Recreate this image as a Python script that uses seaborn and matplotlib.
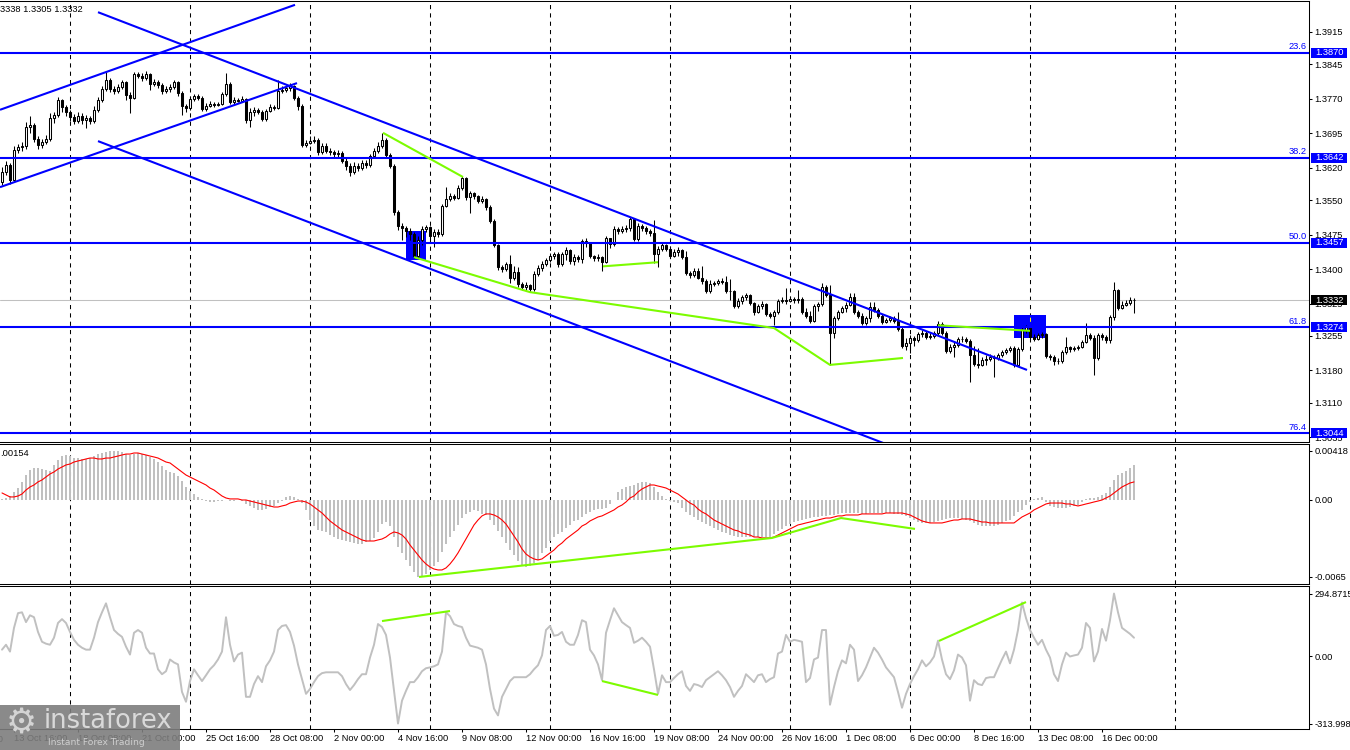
import numpy as np
import matplotlib
matplotlib.use("Agg")
import matplotlib.pyplot as plt
import matplotlib.transforms as mtransforms
from matplotlib.patches import Rectangle
import seaborn as sns

sns.set_style("white")
plt.rcParams['font.family'] = ['Liberation Sans', 'DejaVu Sans']
plt.rcParams['axes.linewidth'] = 0.75

# ---------------- data (H4 candles) ----------------
OPEN0 = 1.3589
CLOSE = [
 1.3611, 1.3626, 1.3594, 1.3659, 1.3665, 1.3667, 1.3709, 1.3713, 1.3683, 1.3670,
 1.3676, 1.3683, 1.3728, 1.3735, 1.3767, 1.3752, 1.3741, 1.3730, 1.3722, 1.3733,
 1.3724, 1.3728, 1.3722, 1.3746, 1.3767, 1.3791, 1.3811, 1.3791, 1.3787, 1.3795,
 1.3806, 1.3778, 1.3772, 1.3824, 1.3819, 1.3815, 1.3824, 1.3802, 1.3806, 1.3800,
 1.3787, 1.3791, 1.3795, 1.3806, 1.3783, 1.3754, 1.3750, 1.3769, 1.3776, 1.3772,
 1.3748, 1.3754, 1.3759, 1.3756, 1.3759, 1.3780, 1.3802, 1.3763, 1.3767, 1.3765,
 1.3769, 1.3724, 1.3741, 1.3746, 1.3741, 1.3726, 1.3743, 1.3752, 1.3750, 1.3787,
 1.3789, 1.3793, 1.3798, 1.3772, 1.3754, 1.3670, 1.3674, 1.3678, 1.3680, 1.3654,
 1.3667, 1.3657, 1.3654, 1.3650, 1.3652, 1.3635, 1.3624, 1.3611, 1.3624, 1.3620,
 1.3631, 1.3626, 1.3646, 1.3657, 1.3667, 1.3680, 1.3648, 1.3624, 1.3524, 1.3494,
 1.3489, 1.3483, 1.3476, 1.3428, 1.3463, 1.3487, 1.3491, 1.3472, 1.3481, 1.3476,
 1.3537, 1.3552, 1.3559, 1.3554, 1.3576, 1.3598, 1.3557, 1.3565, 1.3559, 1.3548,
 1.3552, 1.3535, 1.3505, 1.3452, 1.3405, 1.3400, 1.3411, 1.3381, 1.3394, 1.3368,
 1.3361, 1.3365, 1.3357, 1.3389, 1.3402, 1.3411, 1.3420, 1.3428, 1.3433, 1.3411,
 1.3433, 1.3442, 1.3418, 1.3426, 1.3422, 1.3461, 1.3457, 1.3428, 1.3424, 1.3426,
 1.3415, 1.3468, 1.3454, 1.3487, 1.3483, 1.3487, 1.3489, 1.3509, 1.3465, 1.3494,
 1.3489, 1.3483, 1.3478, 1.3433, 1.3444, 1.3452, 1.3444, 1.3428, 1.3437, 1.3442,
 1.3426, 1.3392, 1.3387, 1.3396, 1.3381, 1.3374, 1.3352, 1.3368, 1.3370, 1.3374,
 1.3372, 1.3352, 1.3352, 1.3320, 1.3331, 1.3339, 1.3344, 1.3326, 1.3307, 1.3320,
 1.3324, 1.3303, 1.3298, 1.3307, 1.3331, 1.3333, 1.3331, 1.3335, 1.3333, 1.3335,
 1.3307, 1.3298, 1.3287, 1.3320, 1.3324, 1.3361, 1.3344, 1.3261, 1.3294, 1.3307,
 1.3316, 1.3322, 1.3339, 1.3307, 1.3298, 1.3283, 1.3294, 1.3318, 1.3311, 1.3298,
 1.3285, 1.3290, 1.3294, 1.3287, 1.3270, 1.3233, 1.3239, 1.3250, 1.3246, 1.3259,
 1.3261, 1.3252, 1.3255, 1.3261, 1.3281, 1.3261, 1.3222, 1.3231, 1.3235, 1.3248,
 1.3248, 1.3244, 1.3213, 1.3194, 1.3192, 1.3203, 1.3205, 1.3209, 1.3207, 1.3213,
 1.3220, 1.3224, 1.3229, 1.3192, 1.3226, 1.3268, 1.3274, 1.3252, 1.3248, 1.3257,
 1.3259, 1.3211, 1.3209, 1.3200, 1.3200, 1.3220, 1.3231, 1.3226, 1.3229, 1.3231,
 1.3242, 1.3257, 1.3250, 1.3207, 1.3257, 1.3252, 1.3246, 1.3296, 1.3355, 1.3316,
 1.3322, 1.3326, 1.3333, 1.3332]
HIGH = [
 1.3622, 1.3635, 1.3631, 1.3667, 1.3672, 1.3676, 1.3720, 1.3733, 1.3717, 1.3689,
 1.3683, 1.3691, 1.3739, 1.3741, 1.3774, 1.3769, 1.3756, 1.3746, 1.3737, 1.3741,
 1.3739, 1.3735, 1.3733, 1.3754, 1.3774, 1.3798, 1.3828, 1.3815, 1.3798, 1.3802,
 1.3811, 1.3809, 1.3785, 1.3828, 1.3828, 1.3826, 1.3830, 1.3826, 1.3813, 1.3811,
 1.3804, 1.3798, 1.3802, 1.3811, 1.3809, 1.3787, 1.3758, 1.3776, 1.3780, 1.3780,
 1.3776, 1.3761, 1.3765, 1.3763, 1.3763, 1.3785, 1.3826, 1.3806, 1.3774, 1.3772,
 1.3776, 1.3772, 1.3750, 1.3752, 1.3750, 1.3746, 1.3748, 1.3759, 1.3756, 1.3811,
 1.3798, 1.3800, 1.3804, 1.3800, 1.3776, 1.3759, 1.3680, 1.3689, 1.3689, 1.3685,
 1.3674, 1.3674, 1.3663, 1.3659, 1.3659, 1.3657, 1.3644, 1.3631, 1.3633, 1.3631,
 1.3637, 1.3637, 1.3650, 1.3663, 1.3676, 1.3696, 1.3685, 1.3652, 1.3628, 1.3528,
 1.3500, 1.3494, 1.3489, 1.3481, 1.3472, 1.3494, 1.3496, 1.3494, 1.3487, 1.3487,
 1.3541, 1.3578, 1.3565, 1.3563, 1.3583, 1.3602, 1.3600, 1.3570, 1.3567, 1.3561,
 1.3559, 1.3554, 1.3539, 1.3509, 1.3454, 1.3409, 1.3415, 1.3431, 1.3407, 1.3405,
 1.3372, 1.3372, 1.3368, 1.3396, 1.3409, 1.3418, 1.3424, 1.3435, 1.3437, 1.3437,
 1.3437, 1.3448, 1.3444, 1.3433, 1.3431, 1.3465, 1.3468, 1.3457, 1.3431, 1.3433,
 1.3428, 1.3472, 1.3463, 1.3494, 1.3491, 1.3494, 1.3496, 1.3513, 1.3511, 1.3500,
 1.3498, 1.3494, 1.3487, 1.3507, 1.3450, 1.3457, 1.3454, 1.3450, 1.3444, 1.3448,
 1.3444, 1.3439, 1.3396, 1.3402, 1.3402, 1.3407, 1.3378, 1.3376, 1.3374, 1.3378,
 1.3381, 1.3385, 1.3378, 1.3355, 1.3337, 1.3344, 1.3348, 1.3346, 1.3329, 1.3324,
 1.3331, 1.3326, 1.3307, 1.3311, 1.3335, 1.3339, 1.3359, 1.3342, 1.3339, 1.3355,
 1.3339, 1.3316, 1.3309, 1.3324, 1.3329, 1.3370, 1.3365, 1.3365, 1.3298, 1.3311,
 1.3320, 1.3329, 1.3348, 1.3348, 1.3311, 1.3305, 1.3298, 1.3329, 1.3329, 1.3316,
 1.3303, 1.3294, 1.3298, 1.3298, 1.3307, 1.3274, 1.3250, 1.3257, 1.3255, 1.3264,
 1.3268, 1.3266, 1.3261, 1.3266, 1.3287, 1.3285, 1.3266, 1.3237, 1.3242, 1.3252,
 1.3255, 1.3252, 1.3248, 1.3233, 1.3229, 1.3209, 1.3213, 1.3216, 1.3213, 1.3218,
 1.3224, 1.3229, 1.3233, 1.3233, 1.3231, 1.3274, 1.3279, 1.3277, 1.3259, 1.3261,
 1.3264, 1.3261, 1.3216, 1.3213, 1.3207, 1.3224, 1.3253, 1.3233, 1.3233, 1.3235,
 1.3246, 1.3283, 1.3261, 1.3257, 1.3261, 1.3261, 1.3257, 1.3300, 1.3372, 1.3357,
 1.3331, 1.3333, 1.3339, 1.3338]
LOW = [
 1.3583, 1.3604, 1.3585, 1.3589, 1.3652, 1.3657, 1.3661, 1.3696, 1.3676, 1.3661,
 1.3663, 1.3672, 1.3678, 1.3717, 1.3730, 1.3741, 1.3733, 1.3722, 1.3715, 1.3717,
 1.3715, 1.3706, 1.3715, 1.3717, 1.3741, 1.3763, 1.3787, 1.3785, 1.3780, 1.3783,
 1.3791, 1.3767, 1.3739, 1.3769, 1.3815, 1.3809, 1.3811, 1.3789, 1.3798, 1.3793,
 1.3780, 1.3783, 1.3785, 1.3791, 1.3776, 1.3735, 1.3741, 1.3746, 1.3765, 1.3767,
 1.3743, 1.3743, 1.3752, 1.3752, 1.3754, 1.3756, 1.3776, 1.3759, 1.3759, 1.3763,
 1.3763, 1.3717, 1.3709, 1.3733, 1.3737, 1.3722, 1.3722, 1.3741, 1.3746, 1.3748,
 1.3783, 1.3785, 1.3787, 1.3767, 1.3746, 1.3665, 1.3665, 1.3672, 1.3674, 1.3648,
 1.3650, 1.3652, 1.3648, 1.3644, 1.3644, 1.3631, 1.3615, 1.3602, 1.3607, 1.3613,
 1.3615, 1.3620, 1.3622, 1.3642, 1.3652, 1.3663, 1.3642, 1.3620, 1.3518, 1.3485,
 1.3463, 1.3470, 1.3463, 1.3424, 1.3424, 1.3452, 1.3481, 1.3465, 1.3448, 1.3470,
 1.3472, 1.3535, 1.3548, 1.3550, 1.3552, 1.3572, 1.3550, 1.3522, 1.3552, 1.3543,
 1.3543, 1.3528, 1.3500, 1.3448, 1.3398, 1.3394, 1.3396, 1.3370, 1.3376, 1.3361,
 1.3355, 1.3355, 1.3350, 1.3352, 1.3385, 1.3396, 1.3407, 1.3415, 1.3422, 1.3405,
 1.3407, 1.3420, 1.3411, 1.3409, 1.3415, 1.3413, 1.3448, 1.3424, 1.3418, 1.3418,
 1.3396, 1.3413, 1.3446, 1.3450, 1.3476, 1.3478, 1.3481, 1.3483, 1.3461, 1.3461,
 1.3483, 1.3476, 1.3472, 1.3413, 1.3405, 1.3439, 1.3439, 1.3424, 1.3426, 1.3428,
 1.3422, 1.3387, 1.3381, 1.3383, 1.3378, 1.3368, 1.3348, 1.3348, 1.3363, 1.3365,
 1.3368, 1.3348, 1.3333, 1.3316, 1.3316, 1.3324, 1.3333, 1.3322, 1.3300, 1.3305,
 1.3313, 1.3298, 1.3294, 1.3279, 1.3303, 1.3326, 1.3324, 1.3329, 1.3326, 1.3326,
 1.3303, 1.3294, 1.3283, 1.3285, 1.3309, 1.3320, 1.3339, 1.3192, 1.3250, 1.3290,
 1.3305, 1.3307, 1.3320, 1.3303, 1.3294, 1.3279, 1.3279, 1.3285, 1.3307, 1.3294,
 1.3281, 1.3283, 1.3285, 1.3283, 1.3266, 1.3229, 1.3224, 1.3218, 1.3233, 1.3242,
 1.3252, 1.3248, 1.3248, 1.3250, 1.3257, 1.3257, 1.3218, 1.3218, 1.3209, 1.3231,
 1.3242, 1.3240, 1.3155, 1.3190, 1.3185, 1.3190, 1.3192, 1.3200, 1.3166, 1.3203,
 1.3209, 1.3216, 1.3220, 1.3187, 1.3190, 1.3222, 1.3261, 1.3248, 1.3244, 1.3246,
 1.3250, 1.3207, 1.3203, 1.3192, 1.3194, 1.3196, 1.3216, 1.3220, 1.3222, 1.3224,
 1.3229, 1.3240, 1.3246, 1.3170, 1.3203, 1.3246, 1.3240, 1.3240, 1.3290, 1.3311,
 1.3313, 1.3320, 1.3322, 1.3305]

# MACD(12,26,9): histogram and signal, in units of 0.00001
MACD_HIST_E5 = [
 9, 17, 34, 68, 102, 154, 213, 256, 273, 273,
 264, 256, 247, 299, 341, 375, 384, 375, 358, 358,
 350, 350, 358, 375, 392, 401, 409, 418, 418, 418,
 409, 392, 384, 392, 401, 392, 384, 367, 350, 324,
 290, 256, 239, 230, 205, 162, 111, 77, 51, 26,
 9, -9, -17, -17, -9, -9, 0, -9, -9, 0,
 -9, -34, -51, -68, -85, -85, -77, -60, -51, -26,
 -9, 26, 34, 26, 9, -26, -85, -171, -222, -256,
 -264, -273, -299, -316, -333, -341, -350, -358, -367, -375,
 -375, -358, -350, -324, -273, -205, -188, -222, -316, -401,
 -452, -512, -563, -614, -657, -648, -631, -597, -563, -529,
 -444, -375, -316, -264, -213, -154, -119, -102, -85, -94,
 -119, -128, -171, -213, -264, -316, -367, -427, -469, -520,
 -554, -572, -563, -537, -512, -452, -409, -350, -316, -290,
 -273, -239, -213, -179, -171, -145, -119, -102, -85, -77,
 -77, -68, -34, 0, 68, 94, 111, 119, 128, 145,
 154, 154, 145, 111, 68, 34, 9, -9, -17, -26,
 -68, -102, -128, -145, -171, -188, -205, -222, -239, -256,
 -273, -281, -299, -307, -316, -316, -316, -316, -316, -316,
 -316, -316, -316, -290, -264, -247, -222, -205, -188, -179,
 -171, -162, -154, -145, -145, -136, -136, -128, -128, -119,
 -111, -111, -111, -111, -111, -119, -119, -111, -111, -111,
 -111, -111, -111, -119, -119, -128, -136, -154, -171, -188,
 -196, -196, -196, -188, -179, -171, -162, -154, -154, -154,
 -162, -171, -179, -196, -213, -222, -222, -222, -222, -213,
 -196, -179, -171, -136, -102, -85, -43, -17, 9, 17,
 26, -17, -51, -60, -68, -68, -68, -60, -51, -43,
 -17, 9, 17, 17, 26, 43, 60, 111, 171, 213,
 230, 247, 273, 299]
MACD_SIGNAL_E5 = [
 60, 43, 26, 26, 34, 51, 85, 111, 128, 154,
 171, 196, 222, 239, 264, 281, 299, 307, 324, 333,
 341, 350, 358, 358, 350, 350, 358, 358, 367, 375,
 384, 392, 392, 401, 401, 392, 384, 375, 367, 358,
 341, 324, 316, 290, 264, 239, 213, 196, 179, 162,
 145, 128, 102, 85, 60, 34, 17, 9, 9, 9,
 0, 0, -9, -17, -26, -34, -43, -51, -60, -60,
 -51, -43, -26, -17, -9, -9, -17, -34, -60, -85,
 -111, -145, -179, -205, -230, -256, -273, -290, -307, -324,
 -341, -350, -350, -350, -341, -333, -316, -290, -273, -281,
 -299, -333, -384, -427, -469, -512, -546, -572, -589, -597,
 -597, -580, -546, -503, -452, -392, -333, -273, -213, -171,
 -136, -119, -119, -128, -145, -171, -205, -256, -307, -358,
 -418, -461, -486, -503, -512, -503, -478, -452, -427, -392,
 -367, -333, -307, -281, -256, -222, -205, -179, -162, -145,
 -136, -119, -102, -85, -60, -43, -17, 17, 34, 68,
 94, 111, 128, 128, 119, 111, 102, 85, 68, 51,
 26, 0, -26, -43, -77, -102, -119, -145, -171, -188,
 -205, -222, -239, -256, -264, -281, -290, -299, -316, -316,
 -324, -324, -324, -316, -299, -281, -264, -247, -230, -213,
 -205, -196, -188, -179, -171, -162, -154, -154, -145, -136,
 -136, -128, -128, -128, -128, -119, -119, -119, -119, -119,
 -119, -111, -111, -111, -111, -111, -119, -128, -145, -162,
 -179, -188, -196, -196, -196, -196, -188, -179, -171, -171,
 -162, -162, -162, -171, -179, -188, -188, -196, -196, -196,
 -196, -196, -196, -196, -171, -145, -128, -111, -85, -68,
 -51, -34, -26, -26, -26, -26, -34, -34, -43, -51,
 -43, -34, -26, -17, -9, 0, 17, 34, 60, 85,
 111, 128, 145, 154]
CCI = [
 32, 55, 23, 134, 203, 207, 161, 193, 184, 115,
 69, 60, 55, 88, 157, 175, 157, 115, 78, 55,
 41, 32, 32, 88, 161, 207, 249, 184, 124, 106,
 92, 46, 9, 111, 124, 111, 41, 14, 14, -60,
 -83, -69, -14, -28, -37, -166, -212, -115, -60, -88,
 -115, -88, -60, -41, -14, 23, 184, 55, -23, 9,
 18, -189, -189, -129, -92, -120, -46, -18, 23, 124,
 143, 147, 115, 51, -37, -106, -175, -152, -120, -92,
 -78, -74, -74, -74, -74, -92, -129, -157, -134, -106,
 -83, -83, -5, 55, 152, 138, 101, -5, -161, -313.998,
 -207, -161, -120, -120, -97, -69, -55, -51, -46, -37,
 23, 207, 189, 152, 143, 138, 88, 51, 46, 41,
 32, -37, -152, -244, -276, -189, -152, -115, -97, -97,
 -97, -97, -83, -60, -41, 5, 124, 143, 97, 101,
 115, 69, 55, 55, 101, 170, 161, 32, 5, -37,
 -111, 111, 170, 226, 193, 161, 147, 134, 64, 74,
 88, 69, 46, -60, -175, -88, -120, -120, -101, -83,
 -69, -138, -161, -129, -134, -143, -111, -97, -83, -69,
 -88, -111, -143, -189, -161, -138, -83, -101, -120, -88,
 -83, -120, -106, -97, 14, 23, 101, 69, 78, 74,
 69, -120, -101, -14, -5, 124, 124, -226, -143, -69,
 -18, -32, 55, 32, -115, -88, -51, -5, 41, 18,
 -14, -51, -74, -97, -166, -240, -175, -129, -92, -60,
 -18, -46, -28, 0, 74, -14, -83, -106, -65, 9,
 -5, -41, -207, -111, -129, -134, -101, -97, -97, -55,
 -14, 23, -32, 32, 124, 253, 180, 124, 88, 55,
 78, 32, -5, -83, -115, -37, 18, 0, 5, 9,
 41, 157, 134, -23, 23, 129, 74, 170, 294.8715, 207,
 134, 120, 106, 88]

PRICE_TICKS = [1.3915, 1.3845, 1.3770, 1.3695, 1.3620, 1.3550, 1.3475,
               1.3400, 1.3325, 1.3255, 1.3180, 1.3110, 1.3035]
FIB_PRICES = [1.3870, 1.3642, 1.3457, 1.3274, 1.3044]
FIB_NAMES = ["23.6", "38.2", "50.0", "61.8", "76.4"]
BID = 1.3332
OHLC_TEXT = "3338 1.3305 1.3332"
MACD_TEXT = ".00154"
MACD_TICKS = [0.00418, 0.0, -0.00657]
MACD_TICKLABELS = ["0.00418", "0.00", "-0.0065"]
CCI_TICKS = [294.8715, 0.0, -313.998]
CCI_TICKLABELS = ["294.8715", "0.00", "-313.998"]

TIME_LABELS = ["13 Oct 16:00", "18 Oct 08:00", "21 Oct 00:00", "25 Oct 16:00",
               "28 Oct 08:00", "2 Nov 00:00", "4 Nov 16:00", "9 Nov 08:00",
               "12 Nov 00:00", "16 Nov 16:00", "19 Nov 08:00", "24 Nov 00:00",
               "26 Nov 16:00", "1 Dec 08:00", "6 Dec 00:00", "8 Dec 16:00",
               "13 Dec 08:00", "16 Dec 00:00"]
TIME_BARS = [3, 19, 35, 51, 67, 83, 99, 115, 131, 147, 163, 179, 195, 211,
             227, 243, 259, 275]
PREV_LABEL, PREV_BAR = "11 Oct 00:00", -13
GRID_BARS = [17, 47, 77, 107, 137, 167, 197, 227, 257, 293.25]

# chart objects (bar index, value)
CHANNEL_LINES = [((-0.5, 1.3746), (73.25, 1.3974)),
                 ((-0.5, 1.3578), (73.75, 1.3804)),
                 ((24.0, 1.3958), (256.25, 1.3181)),
                 ((24.0, 1.3678), (230.0, 1.2990))]
GREEN_PRICE = [[(95.25, 1.3696), (115.25, 1.3600)],
               [(103.0, 1.3426), (132.0, 1.3350), (193.0, 1.3272),
                (207.0, 1.3192), (225.25, 1.3207)],
               [(150.25, 1.3406), (164.0, 1.3415)],
               [(234.0, 1.3278), (257.0, 1.3266)]]
BOXES = [(101, 106, 1.3420, 1.3483), (253, 261, 1.3250, 1.3300)]
GREEN_MACD = [(104.25, -0.00657), (192.5, -0.00324), (209.75, -0.00154),
              (228.25, -0.00247)]
GREEN_CCI = [[(95, 166), (112, 213)], [(150, -115), (164, -180)],
             [(234.25, 73), (256, 255)]]

# ---------------- figure ----------------
W, H = 1350, 750
fig = plt.figure(figsize=(W / 100, H / 100), dpi=100)
fig.patch.set_facecolor("white")


def px_rect(x0, y0, x1, y1):
    return [x0 / W, 1 - y1 / H, (x1 - x0) / W, (y1 - y0) / H]


ax_p = fig.add_axes(px_rect(0, 1, 1309, 441.5))
ax_m = fig.add_axes(px_rect(0, 443.5, 1309, 584))
ax_c = fig.add_axes(px_rect(0, 586, 1309, 729))

N = min(len(CLOSE), len(HIGH), len(LOW), len(MACD_HIST_E5),
        len(MACD_SIGNAL_E5), len(CCI))
idx = np.arange(N)
close = np.array(CLOSE[:N])
opn = np.r_[OPEN0, close[:-1]]
high = np.maximum.reduce([np.array(HIGH[:N]), opn, close])
low = np.minimum.reduce([np.array(LOW[:N]), opn, close])
hist = np.array(MACD_HIST_E5[:N]) * 1e-5
sig = np.array(MACD_SIGNAL_E5[:N]) * 1e-5
cci = np.array(CCI[:N], dtype=float)

XLIM = (-0.5, 326.75)
GRID_KW = dict(color="black", lw=0.75, ls=(0, (4, 4)), zorder=1)
BLUE = "#0000FF"
GREEN = "#7CFC00"
SILVER = "#C0C0C0"
FS = 6.7

for ax in (ax_p, ax_m, ax_c):
    ax.set_facecolor("white")
    for g in GRID_BARS:
        ax.axvline(g, **GRID_KW)
    ax.spines["left"].set_visible(False)
    for s in ("top", "right", "bottom"):
        ax.spines[s].set_color("black")
        ax.spines[s].set_linewidth(0.75)
    ax.yaxis.tick_right()
    ax.tick_params(axis="y", which="both", left=False, right=True,
                   labelleft=False, labelright=True, length=2.2, width=0.75,
                   pad=1.6, labelsize=FS, direction="out", colors="black")
    ax.tick_params(axis="x", bottom=False, labelbottom=False, top=False)

# ---- price panel ----
for (i0, i1, p0, p1) in BOXES:
    ax_p.add_patch(Rectangle((i0, p0), i1 - i0, p1 - p0, fc=BLUE, ec="none",
                             zorder=1.5))
ax_p.vlines(257, BOXES[1][2], BOXES[1][3], color="#FFFF00", lw=0.75,
            ls=(0, (4, 4)), zorder=1.6)
ax_p.axhline(BID, color=SILVER, lw=0.75, zorder=1.8)

ax_p.vlines(idx, low, high, color="black", lw=0.75, zorder=2)
up = close >= opn
body_b = np.minimum(opn, close)
body_h = np.abs(close - opn)
ax_p.bar(idx[up], body_h[up], bottom=body_b[up], width=0.5, color="white",
         edgecolor="black", linewidth=0.75, zorder=3)
ax_p.bar(idx[~up], body_h[~up], bottom=body_b[~up], width=0.5, color="black",
         edgecolor="black", linewidth=0.75, zorder=3)

for p in FIB_PRICES:
    ax_p.axhline(p, color=BLUE, lw=1.5, zorder=4)
for (a, b) in CHANNEL_LINES:
    ax_p.plot([a[0], b[0]], [a[1], b[1]], color=BLUE, lw=1.5, zorder=4,
              solid_capstyle="butt")
for line in GREEN_PRICE:
    xs, ys = zip(*line)
    ax_p.plot(xs, ys, color=GREEN, lw=1.5, zorder=4.5, solid_capstyle="butt")

P_TOP, P_BOT = 1.39823, 1.30256
ax_p.set_ylim(P_BOT, P_TOP)
ax_p.set_xlim(*XLIM)
ax_p.set_yticks(PRICE_TICKS)
ax_p.set_yticklabels([f"{t:.4f}" for t in PRICE_TICKS])

trans_p = mtransforms.blended_transform_factory(fig.transFigure, ax_p.transData)
PX = (P_TOP - P_BOT) / 440.5
for p, name in zip(FIB_PRICES, FIB_NAMES):
    ax_p.text(1307 / W, p + 1.4 * PX, name, transform=trans_p, ha="right",
              va="bottom", fontsize=FS, color=BLUE, zorder=6, clip_on=False)
    ax_p.add_patch(Rectangle((1311 / W, p - 5 * PX), 36 / W, 10 * PX,
                             transform=trans_p, fc=BLUE, ec="none",
                             zorder=9, clip_on=False))
    ax_p.text(1315 / W, p, f"{p:.4f}", transform=trans_p, ha="left",
              va="center", fontsize=FS, color="white", zorder=10,
              clip_on=False)
ax_p.add_patch(Rectangle((1311 / W, BID - 5 * PX), 36 / W, 10 * PX,
                         transform=trans_p, fc="black", ec="none", zorder=9,
                         clip_on=False))
ax_p.text(1315 / W, BID, f"{BID:.4f}", transform=trans_p, ha="left",
          va="center", fontsize=FS, color="white", zorder=10, clip_on=False)

# ---- MACD panel ----
sns.barplot(x=idx, y=hist, native_scale=True, color=SILVER, saturation=1,
            width=0.7, errorbar=None, linewidth=0, ax=ax_m, zorder=2)
sns.lineplot(x=idx, y=sig, color="#FF0000", linewidth=0.8, ax=ax_m,
             errorbar=None, sort=False, zorder=3)
gx, gy = zip(*GREEN_MACD)
ax_m.plot(gx, gy, color=GREEN, lw=1.5, zorder=4, solid_capstyle="butt")
ax_m.set_xlim(*XLIM)
ax_m.set_ylim(-0.00717, 0.00482)
ax_m.set_yticks(MACD_TICKS)
ax_m.set_yticklabels(MACD_TICKLABELS)
ax_m.set_xlabel("")
ax_m.set_ylabel("")
ax_m.tick_params(axis="x", bottom=False, labelbottom=False)

# ---- CCI panel ----
sns.lineplot(x=idx, y=cci, color=SILVER, linewidth=1.4, ax=ax_c,
             errorbar=None, sort=False, zorder=3)
for line in GREEN_CCI:
    xs, ys = zip(*line)
    ax_c.plot(xs, ys, color=GREEN, lw=1.5, zorder=4, solid_capstyle="butt")
ax_c.set_xlim(*XLIM)
ax_c.set_ylim(-339.6, 330.2)
ax_c.set_yticks(CCI_TICKS)
ax_c.set_yticklabels(CCI_TICKLABELS)
ax_c.set_xlabel("")
ax_c.set_ylabel("")
ax_c.set_xticks(TIME_BARS)
ax_c.set_xticklabels(TIME_LABELS, ha="left")
ax_c.tick_params(axis="x", bottom=True, labelbottom=True, length=2.2,
                 width=0.75, pad=1.5, labelsize=FS, direction="out",
                 colors="black")
fig.text((2 + 4 * PREV_BAR) / W, 1 - 739 / H, PREV_LABEL, ha="left",
         va="center", fontsize=FS, color="black")

# ---- labels in panel corners ----
fig.text(0.5 / W, 1 - 9 / H, OHLC_TEXT, ha="left", va="center", fontsize=FS,
         color="black", zorder=5)
fig.text(0.5 / W, 1 - 453 / H, MACD_TEXT, ha="left", va="center",
         fontsize=FS, color="black", zorder=5)

# ---- watermark ----
fig.patches.append(Rectangle((0, 0), 180 / W, 45 / H, transform=fig.transFigure,
                             fc="#7d7d7d", ec="none", alpha=0.9, zorder=20))
fig.text(21 / W, 1 - 724 / H, "\u2699", ha="center", va="center", fontsize=25,
         color="#d4d4d4", family="DejaVu Sans", zorder=21)
fig.text(44 / W, 1 - 728 / H, "instaforex", ha="left", va="baseline",
         fontsize=18.5, color="#d9d9d9", family="DejaVu Sans", zorder=21)
fig.text(48 / W, 1 - 745 / H, "Instant Forex Trading", ha="left",
         va="baseline", fontsize=6.6, color="#cfcfcf", family="DejaVu Sans",
         zorder=21)

fig.savefig("out.png", dpi=100, facecolor="white")
